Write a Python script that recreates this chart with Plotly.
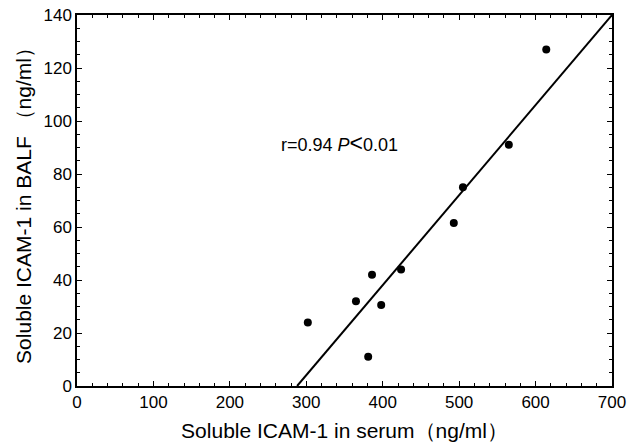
import plotly.graph_objects as go

serum = [302, 365, 381, 386, 398, 424, 493, 505, 565, 614]
balf = [24, 32, 11, 42, 30.6, 44, 61.5, 75, 91, 127]
line_x = [288, 700]
line_y = [0, 140]

fig = go.Figure()
fig.add_trace(go.Scatter(x=line_x, y=line_y, mode="lines",
                         line=dict(color="black", width=2), showlegend=False))
fig.add_trace(go.Scatter(x=serum, y=balf, mode="markers",
                         marker=dict(color="black", size=8), showlegend=False))
fig.add_annotation(x=343, y=91.7,
                   text="r=0.94 <i>P</i><span style='font-size:23px'>&lt;</span>0.01",
                   showarrow=False,
                   font=dict(size=18, color="black", family="Liberation Sans"))

axis_common = dict(showgrid=False, zeroline=False, showline=True, linecolor="black",
                   linewidth=1.5, mirror="ticks", ticks="inside", ticklen=5,
                   tickcolor="black", tickfont=dict(size=17, color="black"),
                   automargin=False, ticklabeloverflow="allow")
fig.update_xaxes(range=[0, 700], dtick=100, tick0=0,
                 minor=dict(ticks="inside", ticklen=3, dtick=20, tickcolor="black"),
                 title=dict(text="Soluble ICAM-1 in serum（ng/ml）", font=dict(size=21), standoff=12),
                 **axis_common)
fig.update_yaxes(range=[0, 140], dtick=20, tick0=0,
                 minor=dict(ticks="inside", ticklen=3, dtick=5, tickcolor="black"),
                 title=dict(text="Soluble ICAM-1 in BALF （ng/ml）", font=dict(size=21), standoff=6),
                 **axis_common)
fig.update_layout(width=637, height=445, plot_bgcolor="white", paper_bgcolor="white",
                  margin=dict(l=77, r=25, t=15, b=59, autoexpand=False),
                  font=dict(family="Liberation Sans", color="black"))
fig.write_html("out.html", config={"displayModeBar": False},
               post_script="document.body.style.margin='0';")
